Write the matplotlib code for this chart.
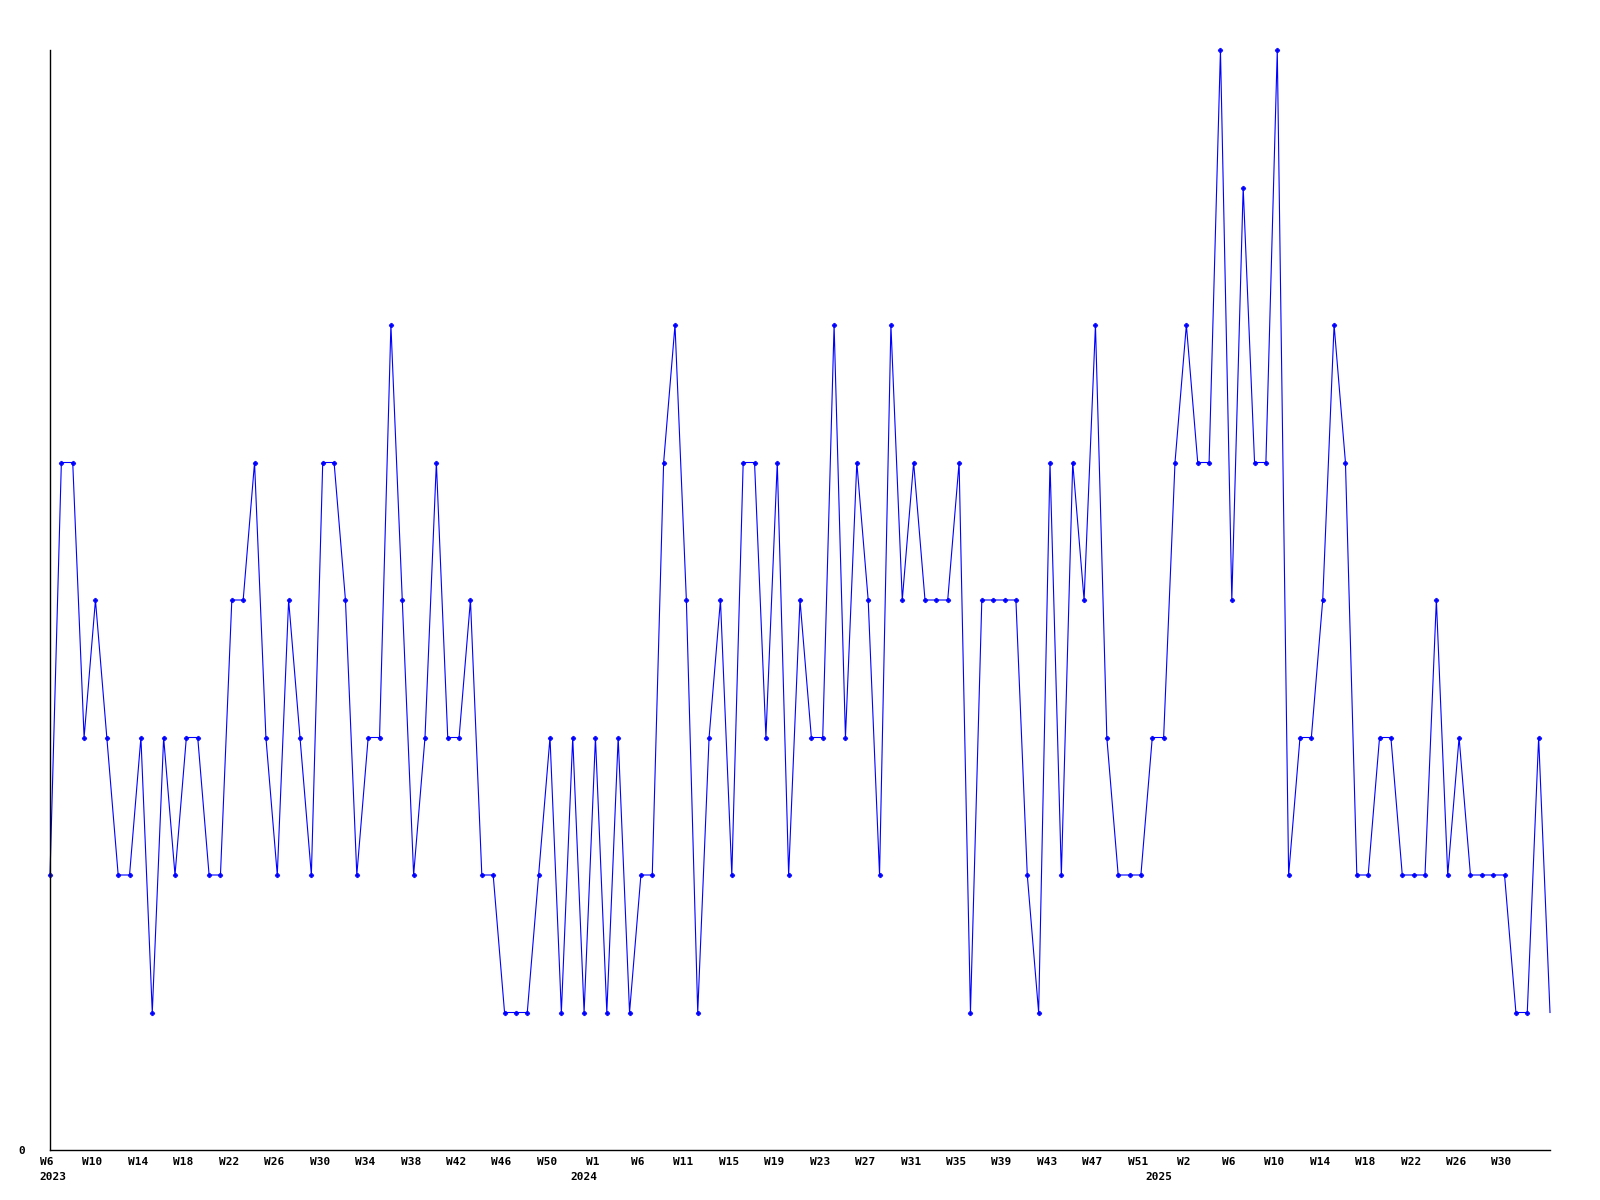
import matplotlib
matplotlib.use("Agg")
import matplotlib.pyplot as plt
import matplotlib.transforms as mtransforms

# weekly counts, 2023 W6 .. 2025 W33
counts = [2, 5, 5, 3, 4, 3, 2, 2, 3, 1, 3, 2, 3, 3, 2, 2, 4, 4, 5,
          3, 2, 4, 3, 2, 5, 5, 4, 2, 3, 3, 6, 4, 2, 3, 5, 3, 3, 4,
          2, 2, 1, 1, 1, 2, 3, 1, 3, 1, 3, 1, 3, 1, 2, 2, 5, 6,
          4, 1, 3, 4, 2, 5, 5, 3, 5, 2, 4, 3, 3, 6, 3, 5, 4, 2, 6,
          4, 5, 4, 4, 4, 5, 1, 4, 4, 4, 4, 2, 1, 5, 2, 5, 4, 6,
          3, 2, 2, 2, 3, 3, 5, 6, 5, 5, 8, 4, 7, 5, 5, 8, 2, 3, 3, 4,
          6, 5, 2, 2, 3, 3, 2, 2, 2, 4, 2, 3, 2, 2, 2, 2, 1, 1, 3, 1]

week_labels = ["W6", "W10", "W14", "W18", "W22", "W26", "W30", "W34", "W38",
               "W42", "W46", "W50", "W1", "W6", "W11", "W15", "W19", "W23",
               "W27", "W31", "W35", "W39", "W43", "W47", "W51", "W2", "W6",
               "W10", "W14", "W18", "W22", "W26", "W30"]
years = ["2023", "2024", "2025"]
year_at = [0.25, 47.0, 97.6]   # where each year label sits, in week index units

x = list(range(len(counts)))
n_int = len(counts) - 1

fig = plt.figure(figsize=(16, 12), dpi=100)
ax = fig.add_axes([50 / 1600, 50 / 1200, 1500 / 1600, 1100 / 1200])

ax.plot(x, counts, color="#0000ff", lw=0.8, clip_on=False)
ax.plot(x[:-1], counts[:-1], ls="none", marker="P", ms=3.2, color="#0000ff",
        mec="#0000ff", mew=0.5, clip_on=False)

ax.set_xlim(0, n_int)
ax.set_ylim(0, 8)

for s in ["top", "right"]:
    ax.spines[s].set_visible(False)
for s in ["left", "bottom"]:
    ax.spines[s].set_linewidth(1.0)
    ax.spines[s].set_color("black")

font = dict(family="DejaVu Sans Mono", weight="bold", size=8)

# labels are spread evenly across the axis, one slot per label
pos = [k * n_int / len(week_labels) for k in range(len(week_labels))]
ax.set_xticks(pos)
ax.set_xticklabels(week_labels, **font)
ax.tick_params(axis="x", length=0, pad=5)
shift = mtransforms.ScaledTranslation(-3 / 100, 0, fig.dpi_scale_trans)
for lbl in ax.get_xticklabels():
    lbl.set_transform(lbl.get_transform() + shift)

off = mtransforms.offset_copy(ax.get_xaxis_transform(), fig=fig, x=0, y=-27, units="dots")
for xp, yr in zip(year_at, years):
    ax.text(xp, 0, yr, transform=off, ha="center", va="center", **font)

ax.set_yticks([0])
ax.set_yticklabels(["0"], **font)
ax.tick_params(axis="y", length=0, pad=18)

fig.savefig("out.png", dpi=100, facecolor="white")
